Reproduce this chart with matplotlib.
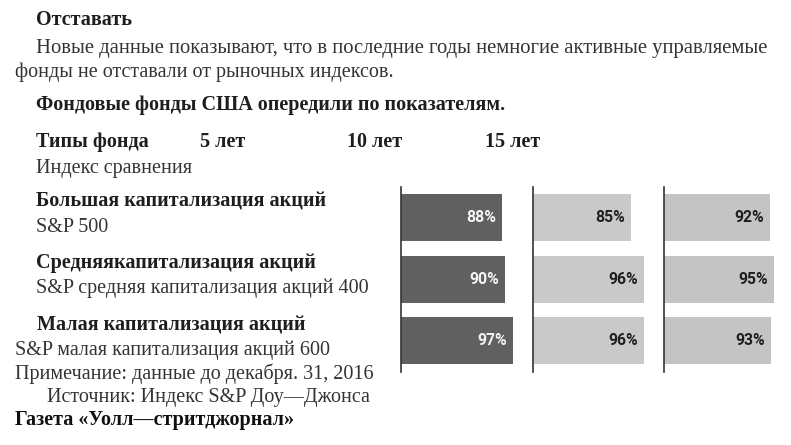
import matplotlib
matplotlib.use("Agg")
import matplotlib.pyplot as plt

# ---- data ----
periods = ["5 лет", "10 лет", "15 лет"]
fund_types = ["Большая капитализация акций", "Средняякапитализация акций", "Малая капитализация акций"]
indexes = ["S&P 500", "S&P средняя капитализация акций 400", "S&P малая капитализация акций 600"]
vals_5y = [88, 90, 97]
vals_10y = [85, 96, 96]
vals_15y = [92, 95, 93]
series = [vals_5y, vals_10y, vals_15y]
bar_colors = ["#606060", "#c9c9c9", "#c4c4c4"]
label_colors = ["#f4f4f4", "#1e1e1e", "#1e1e1e"]

title = "Отставать"
intro1 = "Новые данные показывают, что в последние годы немногие активные управляемые"
intro2 = "фонды не отставали от рыночных индексов."
subtitle = "Фондовые фонды США опередили по показателям."
col_head = "Типы фонда"
index_head = "Индекс сравнения"
note = "Примечание: данные до декабря. 31, 2016"
source = "Источник: Индекс S&P Доу—Джонса"
paper = "Газета «Уолл—стритджорнал»"

W, H = 791, 445
fig = plt.figure(figsize=(W / 100, H / 100), dpi=100)
fig.patch.set_facecolor("white")

SERIF = ["Liberation Serif", "DejaVu Serif"]
FS = 14.5
TXT = "#333333"
HEAD = "#1e1e1e"


def t(x, y, s, bold=False, color=TXT, size=FS):
    fig.text(x / W, 1 - y / H, s, ha="left", va="baseline", family=SERIF,
             fontsize=size, fontweight="bold" if bold else "normal", color=color)


t(36, 25, title, bold=True, color=HEAD)
t(36, 53, intro1, size=14.85)
t(15, 77, intro2)
t(36, 110, subtitle, bold=True, color=HEAD)
t(36, 147, col_head, bold=True, color=HEAD)
for px, p in zip([200, 347, 485], periods):
    t(px, 147, p, bold=True, color=HEAD)
t(36, 173, index_head)
t(36, 207, fund_types[0], bold=True, color=HEAD)
t(36, 232, indexes[0])
t(36, 268, fund_types[1], bold=True, color=HEAD)
t(36, 293, indexes[1])
t(37, 330, fund_types[2], bold=True, color=HEAD)
t(15, 355, indexes[2])
t(15, 379, note)
t(47, 402, source)
t(15, 425, paper, bold=True, color="#111111")

# ---- bars ----
scale = 1.153  # px per percent
panel_left = [401, 533, 664]
ax_w = 125
top, bottom = 187, 372
ypos = [0, 1, 2]
for i, vals in enumerate(series):
    ax = fig.add_axes([panel_left[i] / W, 1 - bottom / H, ax_w / W, (bottom - top) / H])
    ax.barh(ypos, vals, height=0.765, color=bar_colors[i], linewidth=0)
    ax.set_xlim(0, ax_w / scale)
    ax.set_ylim(2.51, -0.5)
    for y, v in zip(ypos, vals):
        ax.annotate(f"{v}%", xy=(v, y), xytext=(-6, 0), textcoords="offset pixels",
                    ha="right", va="center", fontsize=11.3, fontweight="bold",
                    family=["Roboto", "DejaVu Sans"], color=label_colors[i])
    for s in ["top", "right", "bottom"]:
        ax.spines[s].set_visible(False)
    ax.spines["left"].set_color("#333333")
    ax.spines["left"].set_linewidth(1.2)
    ax.set_xticks([])
    ax.set_yticks([])
    ax.patch.set_alpha(0)

fig.savefig("out.png", dpi=100)
